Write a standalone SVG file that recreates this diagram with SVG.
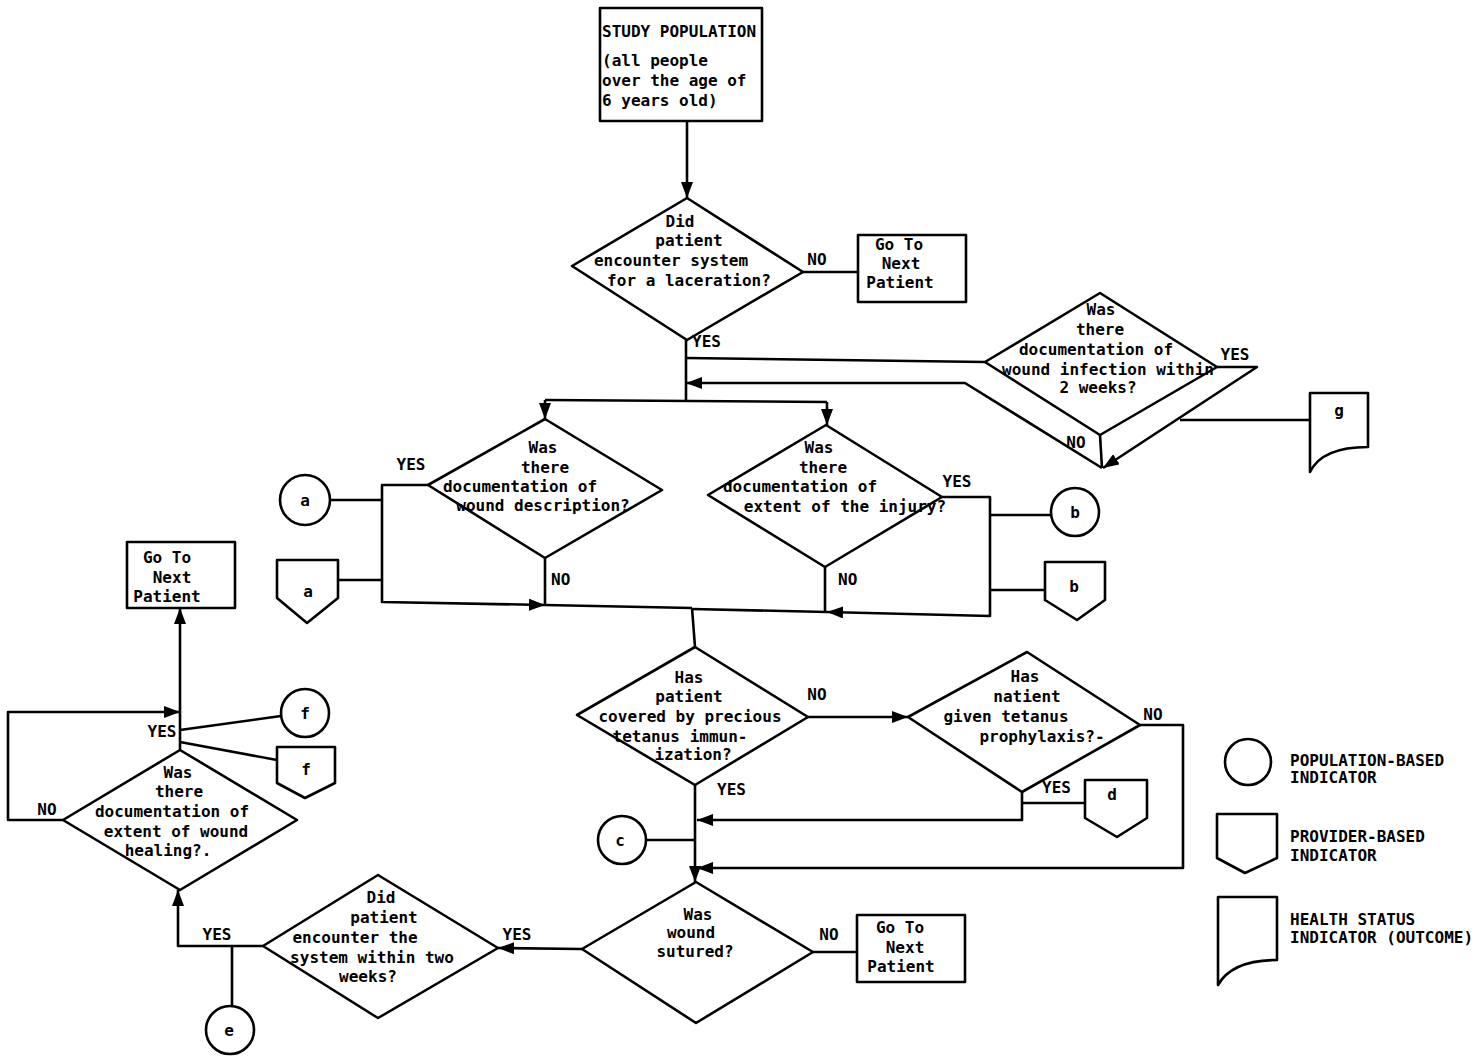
<svg xmlns="http://www.w3.org/2000/svg" width="1483" height="1063" viewBox="0 0 1483 1063">
<defs>
<marker id="ah" viewBox="0 0 16 12" refX="16" refY="6" markerWidth="16" markerHeight="12" orient="auto" markerUnits="userSpaceOnUse"><path d="M0,0 L16,6 L0,12 z" fill="#000"/></marker>
<style>
.s{fill:#fff;stroke:#000;stroke-width:2.6;stroke-linejoin:round}
.c{fill:none;stroke:#000;stroke-width:2.6;stroke-linejoin:round}
.a{marker-end:url(#ah)}
text{font-family:"DejaVu Sans Mono","Liberation Mono",monospace;font-weight:bold;font-size:16px;fill:#000}
.m{text-anchor:middle}
</style>
</defs>
<rect width="1483" height="1063" fill="#fff"/>

<g id="connectors">
<path class="c a" d="M687,121 V198"/>
<path class="c" d="M803,272 H858"/>
<path class="c" d="M686,340 V400"/>
<path class="c" d="M545,400 L827,402"/>
<path class="c a" d="M545,400 V419"/>
<path class="c a" d="M827,402 V425"/>
<path class="c" d="M686,358 L985,362"/>
<path class="c a" d="M1217,367 H1257 L1103,468"/>
<path class="c" d="M1100,435 L1102,468"/>
<path class="c a" d="M1102,468 L965,383 H686"/>
<path class="c" d="M1180,420 H1310"/>
<path class="c a" d="M428,485 H382 V602 L545,605"/>
<path class="c" d="M545,605 L692,608"/>
<path class="c" d="M545,558 V605"/>
<path class="c" d="M330,500 H382"/>
<path class="c" d="M338,580 H382"/>
<path class="c a" d="M942,497 H990 V616 L827,612"/>
<path class="c" d="M827,612 L692,609"/>
<path class="c" d="M825,567 V612"/>
<path class="c" d="M990,515 H1052"/>
<path class="c" d="M990,590 H1045"/>
<path class="c" d="M692,608 L695,647"/>
<path class="c a" d="M808,717 H908"/>
<path class="c a" d="M1140,725 H1183 V868 H697"/>
<path class="c a" d="M1022,792 V820 H697"/>
<path class="c" d="M1022,803 H1085"/>
<path class="c a" d="M695,785 V882"/>
<path class="c" d="M646,840 H695"/>
<path class="c" d="M813,952 H857"/>
<path class="c a" d="M582,949 L498,948"/>
<path class="c a" d="M263,946 H178 V890"/>
<path class="c" d="M232,946 V1006"/>
<path class="c a" d="M180,750 V608"/>
<path class="c" d="M180,730 L281,716"/>
<path class="c" d="M180,742 L277,760"/>
<path class="c a" d="M63,820 H8 V712 H180"/>
</g>

<g id="study-population">
<rect class="s" x="600" y="8" width="162" height="113"/>
<text x="602" y="37">STUDY POPULATION</text>
<text x="602" y="66">(all people</text>
<text x="602" y="86">over the age of</text>
<text x="602" y="106">6 years old)</text>
</g>

<g id="d-encounter">
<polygon class="s" points="687,198 803,272 687,340 572,266"/>
<text class="m" x="680" y="227">Did</text>
<text class="m" x="689" y="246">patient</text>
<text class="m" x="671" y="266">encounter system</text>
<text class="m" x="689" y="286">for a laceration?</text>
<text class="m" x="817" y="265">NO</text>
<text x="692" y="347">YES</text>
</g>

<g id="next-1">
<rect class="s" x="858" y="235" width="108" height="67"/>
<text class="m" x="899" y="250">Go To</text>
<text class="m" x="901" y="269">Next</text>
<text class="m" x="900" y="288">Patient</text>
</g>

<g id="d-infection">
<polygon class="s" points="1100,293 1217,367 1100,435 985,362"/>
<text class="m" x="1101" y="315">Was</text>
<text class="m" x="1100" y="335">there</text>
<text class="m" x="1096" y="355">documentation of</text>
<text class="m" x="1108" y="375">wound infection within</text>
<text class="m" x="1098" y="393">2 weeks?</text>
<text class="m" x="1235" y="360">YES</text>
<text class="m" x="1076" y="448">NO</text>
</g>

<g id="g-outcome">
<path class="s" d="M1310,393 H1368 V447 Q1322,447 1310,472 Z"/>
<text class="m" x="1339" y="416">g</text>
</g>

<g id="d-description">
<polygon class="s" points="545,419 662,490 545,558 428,485"/>
<text class="m" x="543" y="453">Was</text>
<text class="m" x="545" y="473">there</text>
<text class="m" x="520" y="492">documentation of</text>
<text class="m" x="543" y="511">wound description?</text>
<text class="m" x="411" y="470">YES</text>
<text x="551" y="585">NO</text>
</g>

<g id="d-extent">
<polygon class="s" points="826,425 942,497 825,567 708,495"/>
<text class="m" x="819" y="453">Was</text>
<text class="m" x="823" y="473">there</text>
<text class="m" x="800" y="492">documentation of</text>
<text class="m" x="845" y="512">extent of the injury?</text>
<text class="m" x="957" y="487">YES</text>
<text x="838" y="585">NO</text>
</g>

<g id="a-population">
<circle class="s" cx="305" cy="500" r="25"/>
<text class="m" x="305" y="506">a</text>
</g>
<g id="a-provider">
<path class="s" d="M277,560 H338 V598 L307,623 L277,598 Z"/>
<text class="m" x="308" y="597">a</text>
</g>
<g id="b-population">
<circle class="s" cx="1075" cy="512" r="24"/>
<text class="m" x="1075" y="518">b</text>
</g>
<g id="b-provider">
<path class="s" d="M1045,562 H1105 V600 L1077,620 L1045,600 Z"/>
<text class="m" x="1074" y="592">b</text>
</g>

<g id="d-immunization">
<polygon class="s" points="695,647 808,717 695,785 577,715"/>
<text class="m" x="689" y="683">Has</text>
<text class="m" x="689" y="702">patient</text>
<text class="m" x="690" y="722">covered by precious</text>
<text class="m" x="680" y="742">tetanus immun-</text>
<text class="m" x="693" y="760">ization?</text>
<text class="m" x="817" y="700">NO</text>
<text x="717" y="795">YES</text>
</g>

<g id="d-prophylaxis">
<polygon class="s" points="1027,652 1140,725 1022,792 908,717"/>
<text class="m" x="1025" y="682">Has</text>
<text class="m" x="1027" y="702">natient</text>
<text class="m" x="1006" y="722">given tetanus</text>
<text class="m" x="1042" y="742">prophylaxis?-</text>
<text class="m" x="1153" y="720">NO</text>
<text x="1042" y="793">YES</text>
</g>

<g id="d-provider">
<path class="s" d="M1085,780 H1147 V818 L1117,837 L1085,818 Z"/>
<text class="m" x="1112" y="800">d</text>
</g>

<g id="c-population">
<circle class="s" cx="622" cy="840" r="24"/>
<text class="m" x="620" y="846">c</text>
</g>

<g id="d-sutured">
<polygon class="s" points="696,882 813,952 696,1023 582,949"/>
<text class="m" x="698" y="920">Was</text>
<text class="m" x="691" y="938">wound</text>
<text class="m" x="695" y="957">sutured?</text>
<text class="m" x="829" y="940">NO</text>
</g>

<g id="next-3">
<rect class="s" x="857" y="915" width="108" height="67"/>
<text class="m" x="900" y="933">Go To</text>
<text class="m" x="905" y="953">Next</text>
<text class="m" x="901" y="972">Patient</text>
</g>

<g id="d-two-weeks">
<polygon class="s" points="378,875 498,948 378,1018 263,946"/>
<text class="m" x="381" y="903">Did</text>
<text class="m" x="384" y="923">patient</text>
<text class="m" x="355" y="943">encounter the</text>
<text class="m" x="372" y="963">system within two</text>
<text class="m" x="368" y="982">weeks?</text>
<text class="m" x="517" y="940">YES</text>
<text class="m" x="217" y="940">YES</text>
</g>

<g id="e-population">
<circle class="s" cx="230" cy="1030" r="24"/>
<text class="m" x="229" y="1036">e</text>
</g>

<g id="d-healing">
<polygon class="s" points="180,750 297,820 180,890 63,820"/>
<text class="m" x="178" y="778">Was</text>
<text class="m" x="179" y="797">there</text>
<text class="m" x="172" y="817">documentation of</text>
<text class="m" x="176" y="837">extent of wound</text>
<text class="m" x="168" y="856">healing?.</text>
<text class="m" x="162" y="737">YES</text>
<text class="m" x="47" y="815">NO</text>
</g>

<g id="next-2">
<rect class="s" x="127" y="542" width="108" height="66"/>
<text class="m" x="167" y="563">Go To</text>
<text class="m" x="172" y="583">Next</text>
<text class="m" x="167" y="602">Patient</text>
</g>

<g id="f-population">
<circle class="s" cx="305" cy="713" r="24"/>
<text class="m" x="305" y="719">f</text>
</g>
<g id="f-provider">
<path class="s" d="M277,747 H335 V783 L305,798 L277,783 Z"/>
<text class="m" x="306" y="775">f</text>
</g>

<g id="legend">
<circle class="s" cx="1248" cy="762" r="23"/>
<text x="1290" y="766">POPULATION-BASED</text>
<text x="1290" y="783">INDICATOR</text>
<path class="s" d="M1217,814 H1277 V858 L1245,873 L1217,858 Z"/>
<text x="1290" y="842">PROVIDER-BASED</text>
<text x="1290" y="861">INDICATOR</text>
<path class="s" d="M1218,897 H1277 V960 Q1232,960 1218,985 Z"/>
<text x="1290" y="925">HEALTH STATUS</text>
<text x="1290" y="943">INDICATOR (OUTCOME)</text>
</g>
</svg>
